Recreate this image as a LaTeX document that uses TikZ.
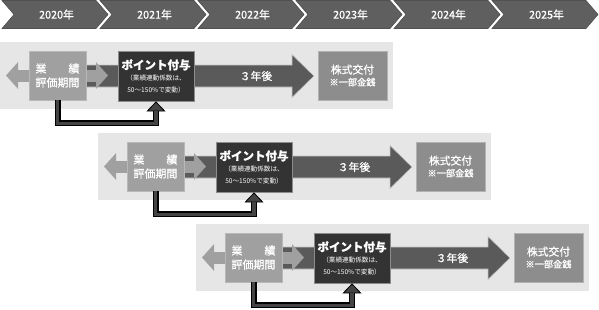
\documentclass[tikz,border=0pt]{standalone}
\usepackage{fontspec}
\setmainfont{Noto Sans CJK JP}[RawFeature={embolden=0.9}]
\newfontfamily\plainjp{Noto Sans CJK JP}
\usetikzlibrary{arrows.meta}
\definecolor{chev}{HTML}{5F5F5F}
\definecolor{chevb}{HTML}{505050}
\definecolor{bgc}{HTML}{E6E6E6}
\definecolor{lgray}{HTML}{A0A0A0}
\definecolor{lgrayb}{HTML}{B8B8B8}
\definecolor{arr}{HTML}{5A5A5A}
\definecolor{arrb}{HTML}{C8C8C8}
\definecolor{dk}{HTML}{333333}
\definecolor{dkb}{HTML}{8C8C8C}
\definecolor{st}{HTML}{8D8D8D}
\definecolor{stb}{HTML}{B2B2B2}
\definecolor{cin}{HTML}{444444}
\newcommand{\bigf}{\fontsize{11.5}{13}\selectfont\bfseries}
\newcommand{\smallf}{\plainjp\fontsize{6.6}{8.5}\selectfont}
\newcommand{\stA}{\fontsize{10.8}{13}\selectfont}
\newcommand{\stB}{\fontsize{9.2}{12}\selectfont}
\tikzset{
  chevron/.style={fill=chev, draw=chevb, line width=0.6pt},
  chevtext/.style={text=white, font=\fontsize{10.8}{12}\selectfont},
  lbox/.style={rectangle, fill=lgray, draw=lgrayb, line width=0.8pt, minimum width=57pt, minimum height=49pt, inner sep=0pt, text=white, align=center},
  dbox/.style={rectangle, fill=dk, draw=dkb, line width=0.8pt, minimum width=76pt, minimum height=50pt, inner sep=0pt, text=white, align=center},
  sbox/.style={rectangle, fill=st, draw=stb, line width=0.8pt, minimum width=69pt, minimum height=49pt, inner sep=0pt, text=white, align=center},
  bigarrow/.style={fill=arr, draw=arrb, line width=0.6pt},
  larrow/.style={draw=lgray, line width=12pt, {Triangle[width=26pt,length=12pt]}-{Triangle[width=26pt,length=12pt]}},
  connout/.style={draw=black, line width=6pt, -{Triangle[width=19pt,length=10pt,line width=0.8pt,fill=cin]}},
  connin/.style={draw=cin, line width=3.4pt, shorten >=10pt},
  lbl/.style={text=white, inner sep=0pt}
}
\begin{document}
\begin{tikzpicture}[x=1pt,y=-1pt]
\useasboundingbox (0,0) rectangle (599,309);
% year chevrons
\foreach \k/\yr in {0/2020,1/2021,2/2022,3/2023,4/2024,5/2025}{
  \begin{scope}[shift={(98*\k,0)}]
    \draw[chevron] (2,0.5) -- (96,0.5) -- (108,14.5) -- (96,28.5) -- (2,28.5) -- (14,14.5) -- cycle;
    \node[chevtext] (y\yr) at (56.5,14.5) {\yr 年};
  \end{scope}
}
% rows
\foreach \r in {0,1,2}{
  \begin{scope}[shift={(98*\r,91*\r)}]
    \fill[bgc] (0,42) rectangle (393,109);
    \draw[bigarrow] (60,65) -- (292,65) -- (292,54.5) -- (314,76) -- (292,97.5) -- (292,87) -- (60,87) -- cycle;
    \node[lbl, font=\fontsize{10.8}{12}\selectfont] (t\r) at (256,76) {３年後};
    \coordinate (la\r) at (6,75.5);
    \coordinate (ra\r) at (108,75.5);
    \draw[larrow] (la\r) -- (ra\r);
    \node[lbox, font=\fontsize{11}{14}\selectfont] (lb\r) at (57.5,75.5) {\makebox[44pt][s]{業\hfill 績}\\評価期間};
    \node[dbox] (db\r) at (156,76) {\bigf ポイント付与\\[-1pt]\smallf （業績連動係数は、\\\smallf 50～150\%で変動）};
    \node[sbox] (sb\r) at (352.5,75.5) {\stA 株式交付\\\stB ※一部金銭};
    \draw[connout] (lb\r.south) -- ++(0,23) -| (db\r.south);
    \draw[connin] (lb\r.south) -- ++(0,23) -| (db\r.south);
  \end{scope}
}
\end{tikzpicture}
\end{document}
